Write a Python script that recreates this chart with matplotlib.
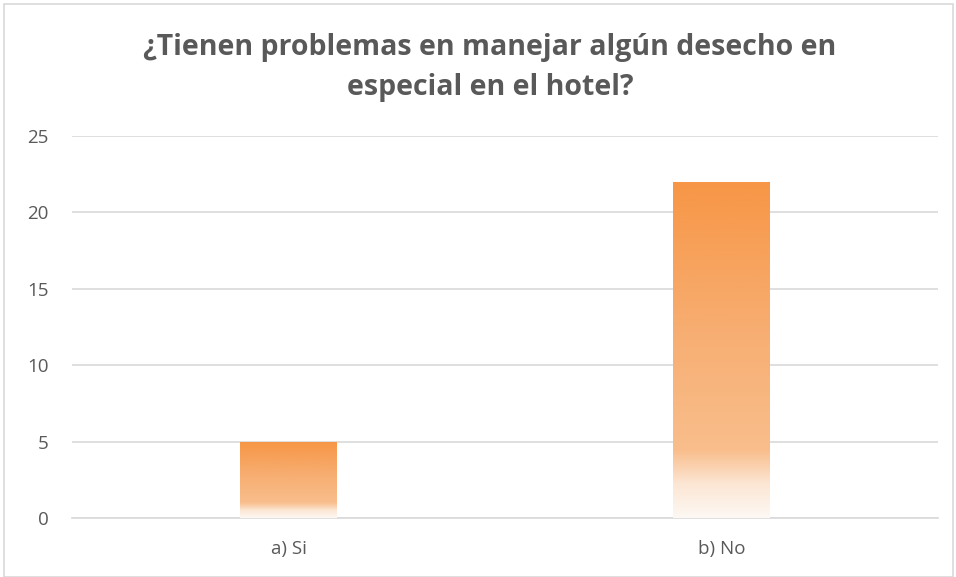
import numpy as np
import matplotlib
matplotlib.use("Agg")
import matplotlib.pyplot as plt
from matplotlib.colors import LinearSegmentedColormap
from matplotlib.patches import Rectangle

categories = ["a) Si", "b) No"]
values = [5, 22]
y_ticks = [0, 5, 10, 15, 20, 25]
title = "¿Tienen problemas en manejar algún desecho en\nespecial en el hotel?"

W, H, DPI = 956, 577, 100
fig = plt.figure(figsize=(W / DPI, H / DPI), dpi=DPI)
fig.patch.set_facecolor("white")

# plot area in pixel coordinates
left, right, top, bottom = 72, 938, 136, 518
ax = fig.add_axes([left / W, 1 - bottom / H, (right - left) / W, (bottom - top) / H])

text_color = "#595959"
grid_color = "#D9D9D9"

x = np.arange(len(categories))
bars = ax.bar(x, values, width=0.222, color="none", edgecolor="none", zorder=3)

ax.set_xlim(-0.5, len(categories) - 0.5)
ax.set_ylim(0, 25)
ax.set_yticks(y_ticks)
ax.set_xticks(x)
ax.set_xticklabels(categories)
ax.yaxis.grid(True, color=grid_color, linewidth=1.2, zorder=0)
ax.set_axisbelow(True)
for s in ["top", "right", "left"]:
    ax.spines[s].set_visible(False)
ax.spines["bottom"].set_color(grid_color)
ax.spines["bottom"].set_linewidth(1.2)
ax.tick_params(axis="both", length=0, labelsize=13.5, colors=text_color)
ax.tick_params(axis="y", pad=17)
ax.tick_params(axis="x", pad=16)
for lbl in ax.get_xticklabels() + ax.get_yticklabels():
    lbl.set_fontfamily("Open Sans")

# vertical gradient fill: orange at the top fading to white at the base
grad = LinearSegmentedColormap.from_list(
    "fade",
    [(0.0, "#FDF8F3"), (0.10, "#FCE6D4"), (0.20, "#F9BE8C"),
     (0.55, "#F7AE72"), (1.0, "#F79646")],
)
g = np.linspace(0, 1, 256).reshape(-1, 1)
for bar in bars:
    bx, by = bar.get_x(), bar.get_y()
    bw, bh = bar.get_width(), bar.get_height()
    im = ax.imshow(g, cmap=grad, origin="lower", aspect="auto",
                   extent=(bx, bx + bw, by, by + bh), zorder=3,
                   interpolation="bilinear")
    im.set_clip_path(bar)
ax.set_xlim(-0.5, len(categories) - 0.5)
ax.set_ylim(0, 25)

fig.text(490 / W, 1 - 68 / H, title, ha="center", va="center",
         fontsize=20.5, fontweight="bold", color=text_color,
         family="Open Sans", linespacing=1.5)

# chart border
fig.patches.append(Rectangle((3.5 / W, 0.5 / H), (W - 7) / W, (H - 4.5) / H,
                             transform=fig.transFigure, fill=False,
                             edgecolor="#D9D9D9", linewidth=1.2))

fig.savefig("out.png", dpi=DPI, facecolor="white")
